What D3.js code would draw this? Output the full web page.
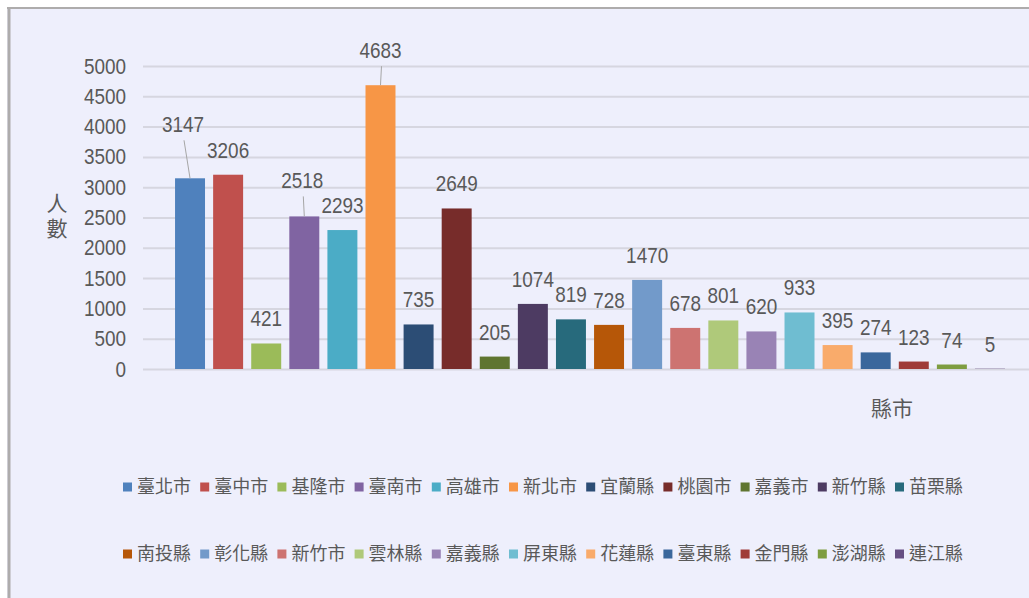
<!DOCTYPE html>
<html>
<head>
<meta charset="utf-8">
<script src="https://cdn.jsdelivr.net/npm/d3@7"></script>
<style>
  html, body { margin: 0; padding: 0; background: #fff; }
  svg { display: block; }
  .num { font-family: "Liberation Sans", Arial, sans-serif; fill: #595959; }
  .cjk { font-family: "Noto Sans CJK TC", "Noto Sans CJK SC", sans-serif; fill: #595959; }
</style>
</head>
<body>
<svg id="chart"></svg>
<script>
var cities = ["臺北市", "臺中市", "基隆市", "臺南市", "高雄市", "新北市", "宜蘭縣", "桃園市", "嘉義市", "新竹縣", "苗栗縣",
  "南投縣", "彰化縣", "新竹市", "雲林縣", "嘉義縣", "屏東縣", "花蓮縣", "臺東縣", "金門縣", "澎湖縣", "連江縣"];

var counts = [3147, 3206, 421, 2518, 2293, 4683, 735, 2649, 205, 1074, 819,
  728, 1470, 678, 801, 620, 933, 395, 274, 123, 74, 5];

var yTicks = [0, 500, 1000, 1500, 2000, 2500, 3000, 3500, 4000, 4500, 5000];

var colores = ["#4f81bd", "#c0504d", "#9bbb59", "#8064a2", "#4bacc6", "#f79646", "#2c4d75", "#772c2a", "#5f7530", "#4d3b62", "#276a7c",
  "#b65708", "#729aca", "#cd7371", "#afc97a", "#9983b5", "#6fbdd1", "#f9ab6b", "#3a679c", "#9f3b38", "#7e9d40", "#664f83"];

var width = 1029,
  height = 598;

// the numbers in the original are a narrow face: squeeze them a little
var squeeze = 0.86,
  numSize = 22;

// hand-moved data labels (with leader lines) as in the original
var nudge = {
  "臺北市": { dx: -7, dy: -46 },
  "臺南市": { dx: -2, dy: -28 },
  "新北市": { dx: 0, dy: -27 }
};

var svg = d3.select("#chart")
  .attr("width", width)
  .attr("height", height);

// chart area with the grey frame edge
svg.append("rect")
  .attr("x", 7).attr("y", 7)
  .attr("width", width - 7).attr("height", height - 7)
  .attr("fill", "#eeeffc");
svg.append("line")
  .attr("x1", 7).attr("x2", width).attr("y1", 8).attr("y2", 8)
  .attr("stroke", "#aeacac").attr("stroke-width", 2);
svg.append("line")
  .attr("x1", 9).attr("x2", 9).attr("y1", 7).attr("y2", height)
  .attr("stroke", "#aeacac").attr("stroke-width", 3);

var x = d3.scaleBand()
  .domain(cities)
  .range([171, 1009])
  .paddingInner(0.213)
  .paddingOuter(0.106);

var y = d3.scaleLinear()
  .domain([0, 5000])
  .range([369, 66]);

var color = d3.scaleOrdinal(cities, colores);

var gridLeft = 143,
  tickPad = 17;

var yAxis = svg.append("g")
  .attr("transform", "translate(" + gridLeft + ",0)")
  .call(d3.axisLeft(y)
    .tickValues(yTicks)
    .tickSize(-(width - gridLeft))
    .tickPadding(tickPad)
    .tickFormat(d3.format("d")));

yAxis.select(".domain").remove();
yAxis.selectAll(".tick line")
  .attr("stroke", "#d6d6e0")
  .attr("stroke-width", 2);
yAxis.selectAll(".tick text")
  .attr("class", "num")
  .attr("fill", "#595959")
  .attr("x", -tickPad / squeeze)
  .attr("transform", "scale(" + squeeze + ",1)")
  .style("font-size", numSize + "px");

var data = cities.map(function (c, i) { return { name: c, value: counts[i] }; });

svg.append("g").selectAll("rect")
  .data(data)
  .enter().append("rect")
    .attr("x", function (d) { return x(d.name); })
    .attr("y", function (d) { return y(d.value); })
    .attr("width", x.bandwidth())
    .attr("height", function (d) { return y(0) - y(d.value); })
    .attr("fill", function (d) { return color(d.name); });

function labelX(d) {
  var n = nudge[d.name];
  return x(d.name) + x.bandwidth() / 2 + (n ? n.dx : 0);
}
function labelY(d) {
  var n = nudge[d.name];
  return y(d.value) + (n ? n.dy : -17);
}

// leader lines
svg.append("g").selectAll("line")
  .data(data.filter(function (d) { return nudge[d.name]; }))
  .enter().append("line")
    .attr("x1", function (d) { return labelX(d) + 1; })
    .attr("y1", function (d) { return labelY(d) + 8; })
    .attr("x2", function (d) { return x(d.name) + x.bandwidth() / 2; })
    .attr("y2", function (d) { return y(d.value); })
    .attr("stroke", "#a6a6a6")
    .attr("stroke-width", 1);

svg.append("g").selectAll("text")
  .data(data)
  .enter().append("text")
    .attr("class", "num")
    .attr("transform", function (d) {
      return "translate(" + labelX(d) + "," + labelY(d) + ") scale(" + squeeze + ",1)";
    })
    .attr("text-anchor", "middle")
    .style("font-size", numSize + "px")
    .text(function (d) { return d.value; });

// axis titles
svg.append("text")
  .attr("class", "cjk")
  .attr("x", 57)
  .attr("y", 193)
  .style("writing-mode", "vertical-rl")
  .style("letter-spacing", "4px")
  .style("font-size", "21px")
  .text("人數");

svg.append("text")
  .attr("class", "cjk")
  .attr("x", 892)
  .attr("y", 416)
  .attr("text-anchor", "middle")
  .style("font-size", "21px")
  .text("縣市");

// legend, two rows of eleven
var perRow = 11,
  legendX = 123,
  legendStep = 77.2,
  rowY = [487, 554];

var legend = svg.append("g").selectAll("g")
  .data(data)
  .enter().append("g")
    .attr("transform", function (d, i) {
      return "translate(" + (legendX + (i % perRow) * legendStep) + "," + rowY[Math.floor(i / perRow)] + ")";
    });

legend.append("rect")
  .attr("x", 0).attr("y", -4.5)
  .attr("width", 9).attr("height", 9)
  .attr("fill", function (d) { return color(d.name); });

legend.append("text")
  .attr("class", "cjk")
  .attr("x", 14)
  .attr("y", 0)
  .attr("dy", "0.35em")
  .style("font-size", "18px")
  .text(function (d) { return d.name; });
</script>
</body>
</html>
